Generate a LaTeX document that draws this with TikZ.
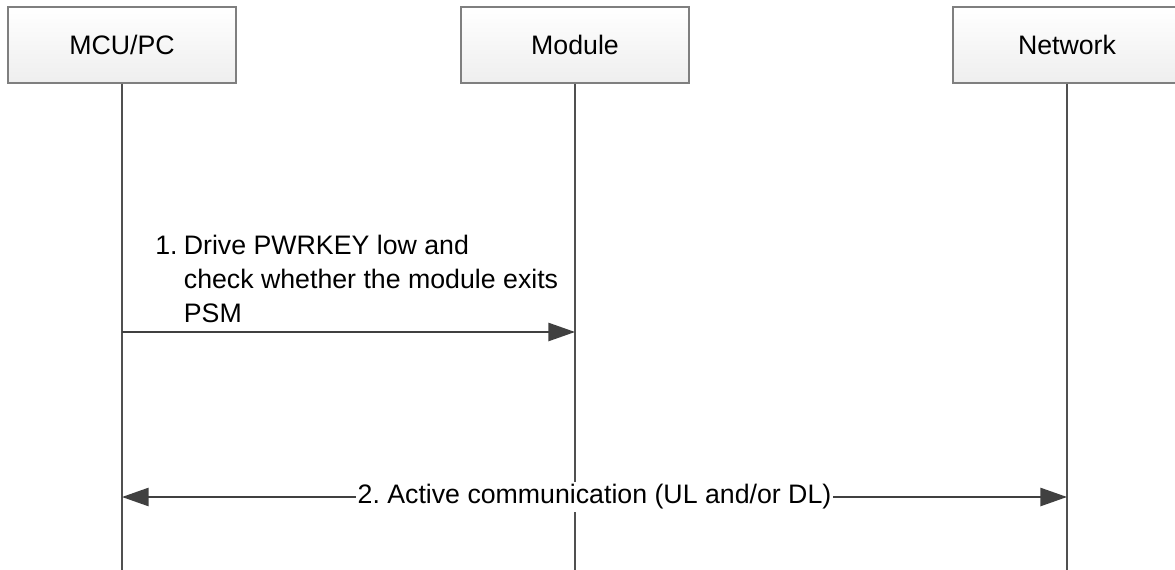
\documentclass[tikz,border=0pt]{standalone}
\usepackage{fontspec}
\setmainfont{Liberation Sans}
\usetikzlibrary{arrows.meta}
\frenchspacing

\begin{document}
\begin{tikzpicture}[x=0.025cm, y=-0.025cm]

% Colori
\definecolor{boxBorder}{HTML}{7F7F7F}
\definecolor{boxBottom}{HTML}{EEEEEE}
\definecolor{lineDark}{HTML}{404040}
\definecolor{lifeGray}{HTML}{505050}

\tikzset{
  actor/.style={draw=boxBorder, line width=0.8pt, top color=white, bottom color=boxBottom,
    minimum width=5.7cm, minimum height=1.9cm, font=\fontsize{19}{22}\selectfont},
  lifeline/.style={draw=lifeGray, line width=1.4pt},
  msg/.style={draw=lineDark, line width=1.4pt, -{Triangle[length=19pt,width=13pt]}},
  msgtext/.style={font=\fontsize{19}{24}\selectfont, inner sep=0pt}
}

% Area del disegno
\useasboundingbox (0,0) rectangle (1175,570);

% Partecipanti
\node[actor] (mcu) at (122,45) {MCU/PC};
\node[actor] (mod) at (575,45) {Module};
\node[actor] (net) at (1067,45) {Network};

% Fine delle linee di vita
\coordinate (mcuEnd) at (122,572);
\coordinate (modEnd) at (575,572);
\coordinate (netEnd) at (1067,572);

% Linee di vita
\draw[lifeline] (mcu.south) -- (mcuEnd);
\draw[lifeline] (mod.south) -- (modEnd);
\draw[lifeline] (net.south) -- (netEnd);

% Punti dei messaggi
\coordinate (mcuA) at (122,332);
\coordinate (modA) at (575,332);
\coordinate (mcuB) at (122,497);
\coordinate (netB) at (1067,497);

% 1. PWRKEY
\draw[msg] (mcuA) -- (modA);
\node[msgtext, anchor=north west] (msg1) at (155,231)
  {\begin{tabular}{@{}l@{\hspace{4.5pt}}l@{}}
   1. & Drive PWRKEY low and\\
      & check whether the module exits\\
      & PSM
   \end{tabular}};

% 2. Comunicazione attiva
\draw[msg, {Triangle[length=19pt,width=13pt]}-{Triangle[length=19pt,width=13pt]}] (mcuB) -- (netB)
  node[midway, fill=white, inner xsep=1pt, inner ysep=2pt, font=\fontsize{19}{22}\selectfont] (msg2)
  {2. Active communication (UL and/or DL)};

\end{tikzpicture}
\end{document}
